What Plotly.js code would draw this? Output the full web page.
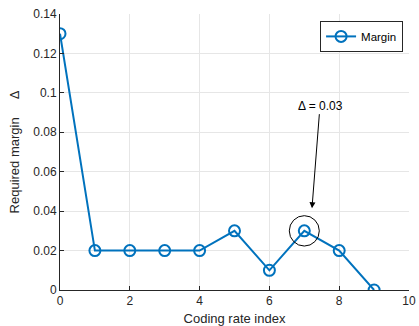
<!DOCTYPE html>
<html><head><meta charset="utf-8">
<script src="https://cdn.plot.ly/plotly-3.0.1.min.js"></script>
<style>body{margin:0;background:#fff}#c{width:419px;height:326px}</style>
</head><body><div id="c"></div>
<script>
const xIndex = [0,1,2,3,4,5,6,7,8,9];
const margin = [0.13,0.02,0.02,0.02,0.02,0.03,0.01,0.03,0.02,0];
const xTicks = [0,2,4,6,8,10];
const yTicks = [0,0.02,0.04,0.06,0.08,0.1,0.12,0.14];
const yTickText = ['0','0.02','0.04','0.06','0.08','0.1','0.12','0.14'];
const highlightX = 7, highlightY = 0.03;
const labelText = '\u0394 = 0.03';

const font = {family:'Liberation Sans, Arial, sans-serif', size:12, color:'#262626'};
const trace = {x:xIndex, y:margin, mode:'lines+markers', name:'Margin',
  line:{color:'#0072BD', width:2},
  marker:{symbol:'circle-open', size:11, color:'#0072BD', line:{width:2, color:'#0072BD'}}};
const layout = {
  width:419, height:326, margin:{l:60,r:10,t:14,b:36},
  paper_bgcolor:'#fff', plot_bgcolor:'#fff', font:font, showlegend:true,
  legend:{x:0.983, y:0.975, xanchor:'right', yanchor:'top', bgcolor:'#fff', bordercolor:'#262626', borderwidth:1, font:{size:11.5,color:'#000'}, itemwidth:30, tracegroupgap:0},
  xaxis:{range:[0,10], tickvals:xTicks, ticks:'inside', ticklen:4, tickcolor:'#262626',
    showline:true, linecolor:'#262626', linewidth:1, showgrid:true, gridcolor:'#e6e6e6', zeroline:false,
    title:{text:'Coding rate index', font:{size:13,color:'#262626'}, standoff:6}},
  yaxis:{range:[0,0.14], tickvals:yTicks, ticktext:yTickText, ticks:'inside', ticklen:4, tickcolor:'#262626',
    showline:true, linecolor:'#262626', linewidth:1, showgrid:true, gridcolor:'#e6e6e6', zeroline:false,
    title:{text:'Required margin\u00a0\u00a0\u00a0\u00a0\u00a0\u0394', font:{size:13,color:'#262626'}, standoff:10}},
  shapes:[{type:'circle', xref:'x', yref:'y', x0:highlightX-0.43, x1:highlightX+0.43, y0:highlightY-0.0077, y1:highlightY+0.0077, line:{color:'#000', width:1}}],
  annotations:[{x:7.22, y:0.0415, xref:'x', yref:'y', ax:7.45, ay:0.0935, axref:'x', ayref:'y',
    text:labelText, showarrow:true, arrowhead:2, arrowsize:1.2, arrowwidth:1, arrowcolor:'#000', font:{size:12,color:'#000'}}]
};
Plotly.newPlot('c',[trace],layout,{displayModeBar:false, staticPlot:true});
</script></body></html>
